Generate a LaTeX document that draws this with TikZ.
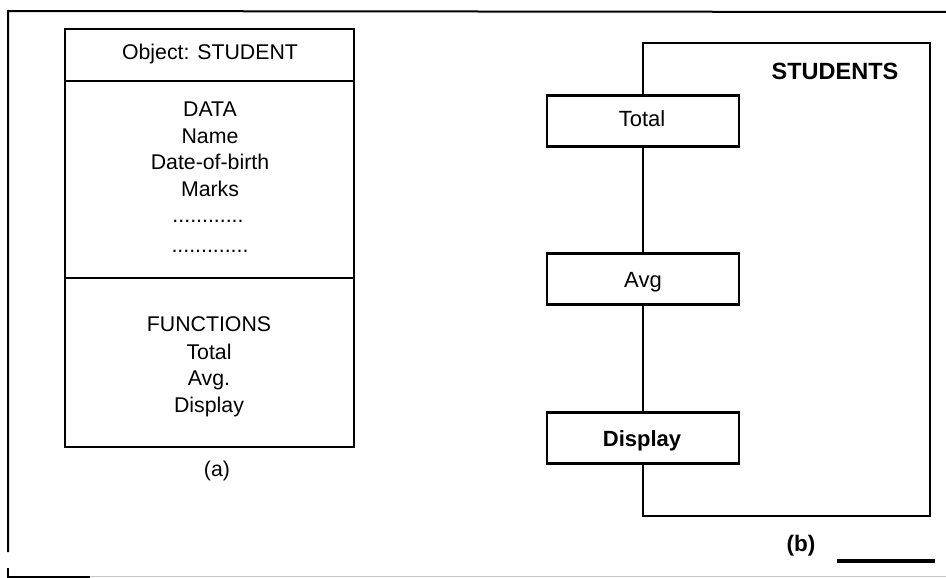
\documentclass[tikz,border=0pt]{standalone}
\usepackage{fontspec}
\setmainfont{Liberation Sans}
\begin{document}
\begin{tikzpicture}[x=1pt,y=-1pt,
  txt/.style={inner sep=0pt,anchor=base,font=\fontsize{21.3}{24}\selectfont},
  btxt/.style={inner sep=0pt,anchor=base,font=\fontsize{23.5}{26}\selectfont\bfseries},
  fbox/.style={draw,line width=2.2pt,fill=white,minimum width=192pt,minimum height=51pt,inner sep=0pt},
  boxtxt/.style={inner sep=0pt,anchor=base,font=\fontsize{22}{24}\selectfont},
  frame/.style={line width=2pt},
  thick line/.style={line width=2.6pt}]
\useasboundingbox (0,0) rectangle (946,578);
% outer frame
\coordinate (f1) at (8,11);
\coordinate (f2) at (946,12);
\coordinate (f3) at (8,552);
\coordinate (f4) at (8,568);
\coordinate (f5) at (8,576.5);
\coordinate (f6) at (90,576.5);
\coordinate (f7) at (946,576.5);
\draw[frame] (f2) -- (f1) -- (f3);
\draw[frame] (f4) -- (f5) -- (f6);
\draw[gray!45,line width=1.4pt] (f6) -- (f7);
% (a) object box
\coordinate (a1) at (65,29);
\coordinate (a2) at (354,447);
\draw[thick line] (a1) rectangle (a2);
\coordinate (d1l) at (65,81);  \coordinate (d1r) at (354,81);
\coordinate (d2l) at (65,278); \coordinate (d2r) at (354,278);
\draw[thick line] (d1l) -- (d1r);
\draw[thick line] (d2l) -- (d2r);
\node[txt] (obj) at (210,60) {Object: STUDENT};
\node[txt] (data) at (210,117) {DATA};
\node[txt] (name) at (210,143) {Name};
\node[txt] (dob) at (210,169) {Date-of-birth};
\node[txt] (marks) at (210,196) {Marks};
\node[txt] (dots1) at (208,222) {............};
\node[txt] (dots2) at (210,252) {.............};
\node[txt] (fun) at (209,331) {FUNCTIONS};
\node[txt] (ftot) at (209,359) {Total};
\node[txt] (favg) at (209,385) {Avg.};
\node[txt] (fdis) at (209,412) {Display};
\node[txt] (capa) at (217,476) {(a)};
% (b) class
\coordinate (tl) at (643,43);
\coordinate (tr) at (930,43);
\coordinate (br) at (930,516);
\coordinate (bl) at (643,516);
\node[fbox] (total) at (643,121) {};
\node[fbox] (avg) at (643,279) {};
\node[fbox] (disp) at (643,438) {};
\node[boxtxt] (totalt) at (642,127) {Total};
\node[boxtxt] (avgt) at (643,287) {Avg};
\node[boxtxt,font=\fontsize{22}{24}\selectfont\bfseries] (dispt) at (642,446) {Display};
\draw[line width=2.2pt] (total.north) -- (tl) -- (tr) -- (br) -- (bl) -- (disp.south);
\draw[line width=2.2pt] (total.south) -- (avg.north);
\draw[line width=2.2pt] (avg.south) -- (disp.north);
\node[btxt] (stud) at (835,80) {STUDENTS};
\node[btxt,font=\fontsize{22.5}{24}\selectfont\bfseries] (capb) at (801,551) {(b)};
\coordinate (r1) at (837,561);
\coordinate (r2) at (935,561);
\draw[line width=4pt] (r1) -- (r2);
\end{tikzpicture}
\end{document}
